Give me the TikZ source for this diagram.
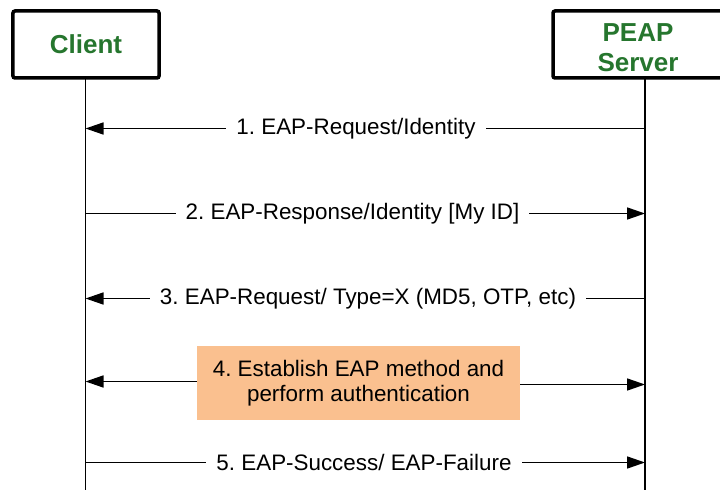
\documentclass[tikz,border=0pt]{standalone}
\usepackage{fontspec}
\setmainfont{Liberation Sans}
\usetikzlibrary{arrows.meta}
\frenchspacing
\definecolor{titlegreen}{RGB}{38,118,46}
\definecolor{stepfill}{RGB}{250,192,143}
\tikzset{
  actor/.style={draw=black, line width=3.5bp, rounded corners=2bp, fill=white, inner sep=0pt, align=center,
    font=\fontsize{26bp}{30bp}\selectfont\bfseries, text=titlegreen},
  actortext/.style={inner sep=0pt, align=center, font=\fontsize{26bp}{30bp}\selectfont\bfseries, text=titlegreen},
  lifeline/.style={line width=1.6bp, draw=black},
  msg/.style={line width=1.6bp, draw=black, -{Triangle[length=18bp,width=12bp]}},
  msglabel/.style={fill=white, inner xsep=10bp, inner ysep=2bp, font=\fontsize{22.4bp}{26bp}\selectfont},
  stepbox/.style={fill=stepfill, inner sep=0pt, minimum width=323bp, minimum height=74bp, align=center,
    font=\fontsize{22.4bp}{25.5bp}\selectfont}
}
\begin{document}
\begin{tikzpicture}[x=1bp,y=-1bp]
\useasboundingbox (0,0) rectangle (720,490);
% actors
\node[actor, minimum width=146bp, minimum height=67bp] (client) at (86,44.5) {Client};
\node[actor, minimum width=170bp, minimum height=67bp] (server) at (638,44.5) {};
\node[actortext] (servertext) at (638,47.5) {PEAP\\Server};
% lifeline ends
\coordinate (ctop) at (85.5,78);
\coordinate (cbot) at (85.5,495);
\coordinate (stop) at (645,78);
\coordinate (sbot) at (645,495);
\draw[lifeline] (ctop) -- (cbot);
\draw[lifeline] (stop) -- (sbot);
% message anchors
\coordinate (c1) at (85.5,128.5);
\coordinate (s1) at (645,128.5);
\coordinate (c2) at (85.5,213.5);
\coordinate (s2) at (645,213.5);
\coordinate (c3) at (85.5,298.5);
\coordinate (s3) at (645,298.5);
\coordinate (c5) at (85.5,462.5);
\coordinate (s5) at (645,462.5);
% messages
\draw[msg] (s1) -- (c1);
\node[msglabel] (m1) at (356,128.5) {1. EAP-Request/Identity};
\draw[msg] (c2) -- (s2);
\node[msglabel] (m2) at (352.5,213.5) {2. EAP-Response/Identity [My ID]};
\draw[msg] (s3) -- (c3);
\node[msglabel] (m3) at (368,298.5) {3. EAP-Request/ Type=X (MD5, OTP, etc)};
\draw[msg] (c5) -- (s5);
\node[msglabel] (m5) at (364,462.5) {5. EAP-Success/ EAP-Failure};
% step 4
\node[stepbox] (m4) at (358.5,383) {4. Establish EAP method and\\perform authentication};
\coordinate (c4) at (85.5,381.5);
\coordinate (s4) at (645,384.5);
\draw[msg] (m4.west |- c4) -- (c4);
\draw[msg] (m4.east |- s4) -- (s4);
\end{tikzpicture}
\end{document}
